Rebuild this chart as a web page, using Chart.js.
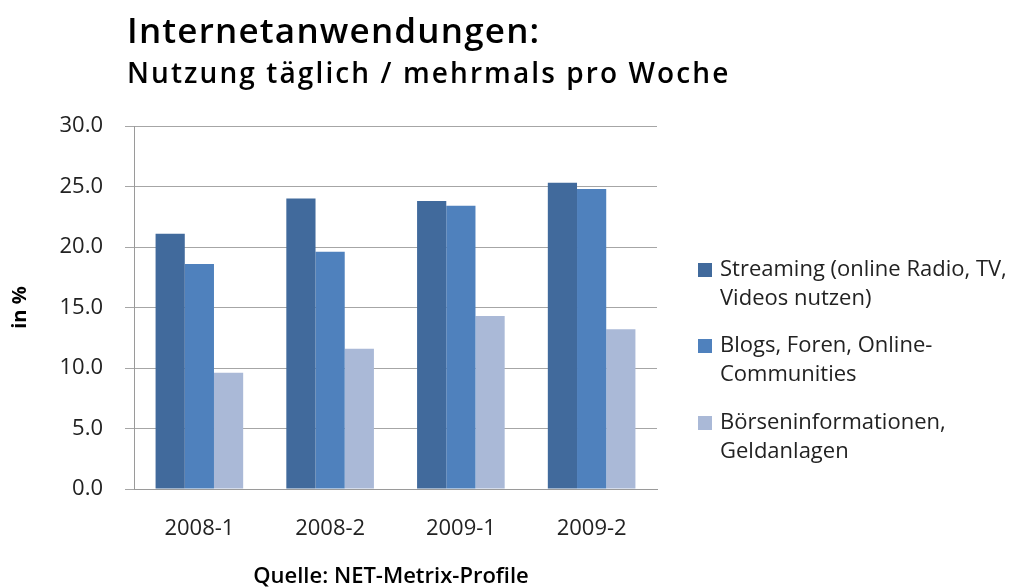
<!DOCTYPE html>
<html>
<head>
<meta charset="utf-8">
<script src="https://cdn.jsdelivr.net/npm/chart.js@4"></script>
<style>
  html, body { margin: 0; padding: 0; background: #fff; }
  #wrap { width: 1028px; height: 588px; }
</style>
</head>
<body>
<div id="wrap"><canvas id="chart" width="1028" height="588"></canvas></div>
<script>
const categories = ['2008-1', '2008-2', '2009-1', '2009-2'];
const seriesNames = [
  ['Streaming (online Radio, TV,', 'Videos nutzen)'],
  ['Blogs, Foren, Online-', 'Communities'],
  ['Börseninformationen,', 'Geldanlagen']
];
const streaming = [21.1, 24.0, 23.8, 25.3];
const blogs = [18.6, 19.6, 23.4, 24.8];
const boerse = [9.6, 11.6, 14.3, 13.2];
const seriesColors = ['#416A9C', '#4F81BD', '#AAB9D7'];

const titleText = 'Internetanwendungen:';
const subtitleText = 'Nutzung täglich / mehrmals pro Woche';
const sourceText = 'Quelle: NET-Metrix-Profile';
const FONT = '"Open Sans", Calibri, sans-serif';

// Titel, Legende und Quelle selbst zeichnen
const extraText = {
  id: 'extraText',
  afterDraw(chart) {
    const ctx = chart.ctx;
    ctx.save();
    ctx.fillStyle = '#000';
    ctx.textBaseline = 'alphabetic';
    ctx.textAlign = 'left';
    ctx.font = '600 35px ' + FONT;
    ctx.letterSpacing = '1.2px';
    ctx.fillText(titleText, 127, 43);
    ctx.font = '600 28px ' + FONT;
    ctx.letterSpacing = '2.1px';
    ctx.fillText(subtitleText, 127, 83);
    ctx.letterSpacing = '0px';

    // Legende
    ctx.font = '22px ' + FONT;
    const starts = [270, 346, 423];
    seriesNames.forEach((lines, i) => {
      ctx.fillStyle = seriesColors[i];
      ctx.fillRect(698, starts[i] - 7, 14, 14);
      ctx.fillStyle = '#222';
      ctx.textBaseline = 'middle';
      lines.forEach((ln, j) => ctx.fillText(ln, 720, starts[i] + j * 29));
    });

    ctx.textAlign = 'center';
    ctx.textBaseline = 'middle';
    ctx.font = '600 22px ' + FONT;
    ctx.fillStyle = '#000';
    ctx.fillText(sourceText, 391, 577);
    ctx.restore();
  }
};

new Chart(document.getElementById('chart').getContext('2d'), {
  type: 'bar',
  data: {
    labels: categories,
    datasets: [
      { label: seriesNames[0].join(' '), data: streaming, backgroundColor: seriesColors[0] },
      { label: seriesNames[1].join(' '), data: blogs, backgroundColor: seriesColors[1] },
      { label: seriesNames[2].join(' '), data: boerse, backgroundColor: seriesColors[2] }
    ]
  },
  options: {
    responsive: false,
    animation: false,
    layout: { padding: { left: 0, top: 126, right: 371, bottom: 39 } },
    datasets: { bar: { categoryPercentage: 0.67, barPercentage: 1.0 } },
    plugins: {
      legend: { display: false },
      tooltip: { enabled: false }
    },
    scales: {
      x: {
        grid: { display: false },
        border: { display: true, color: '#9a9a9a', width: 1 },
        ticks: { color: '#222', font: { family: FONT, size: 22 }, padding: 19 },
        afterFit(scale) { scale.height = 60; }
      },
      y: {
        min: 0,
        max: 30,
        ticks: {
          stepSize: 5,
          color: '#222',
          padding: 22,
          font: { family: FONT, size: 22 },
          callback: v => v.toFixed(1)
        },
        grid: { color: '#a6a6a6', lineWidth: 1, tickLength: 9 },
        border: { display: true, color: '#9a9a9a', width: 1 },
        title: {
          display: true,
          text: 'in %',
          color: '#000',
          font: { family: FONT, size: 20, weight: 'bold' },
          padding: { top: 8, bottom: 0 }
        },
        afterFit(scale) { scale.width = 134; }
      }
    }
  },
  plugins: [extraText]
});
</script>
</body>
</html>
